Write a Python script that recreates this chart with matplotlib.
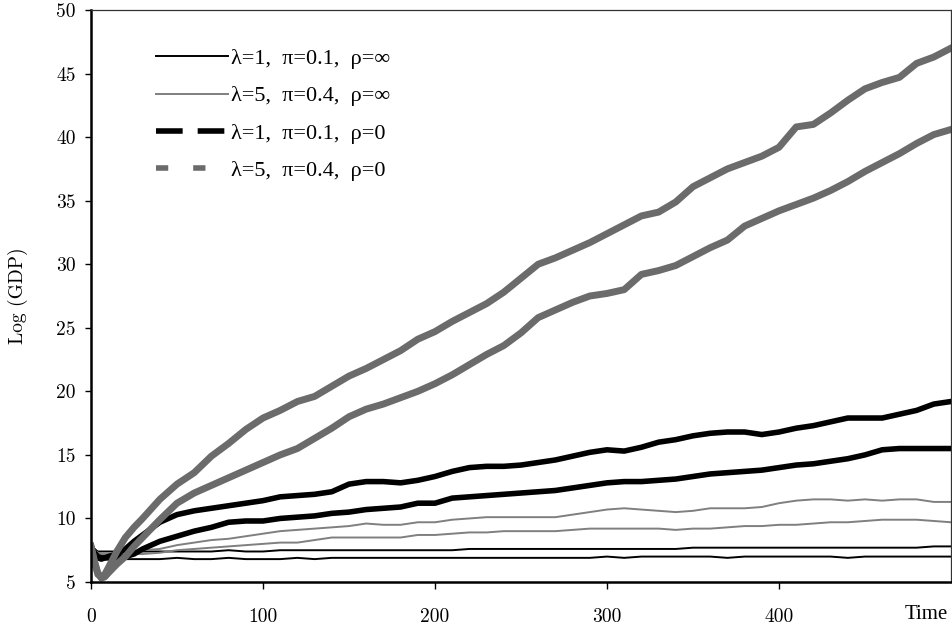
import matplotlib
matplotlib.use("Agg")
from matplotlib import pyplot as plt
from matplotlib.lines import Line2D

# time grid
t = [0, 2, 4, 6, 8, 10, 15, 20, 25, 30, 40, 50, 60, 70, 80, 90, 100, 110, 120, 130,
     140, 150, 160, 170, 180, 190, 200, 210, 220, 230, 240, 250, 260, 270, 280, 290,
     300, 310, 320, 330, 340, 350, 360, 370, 380, 390, 400, 410, 420, 430, 440, 450,
     460, 470, 480, 490, 500]

# lambda=5, pi=0.4, rho=0 (two runs, thick grey)
g_thick_1 = [7.8, 6.6, 5.6, 5.4, 5.6, 6.1, 7.4, 8.5, 9.3, 10.0, 11.5, 12.7, 13.6, 14.9, 15.9, 17.0, 17.9, 18.5, 19.2, 19.6,
             20.4, 21.2, 21.8, 22.5, 23.2, 24.1, 24.7, 25.5, 26.2, 26.9, 27.8, 28.9, 30.0, 30.5, 31.1, 31.7,
             32.4, 33.1, 33.8, 34.1, 34.9, 36.1, 36.8, 37.5, 38.0, 38.5, 39.2, 40.8, 41.0, 41.9, 42.9, 43.8,
             44.3, 44.7, 45.8, 46.3, 47.0]
g_thick_2 = [7.8, 6.6, 5.7, 5.3, 5.4, 5.7, 6.4, 7.0, 7.8, 8.5, 9.9, 11.2, 12.0, 12.6, 13.2, 13.8, 14.4, 15.0, 15.5, 16.3,
             17.1, 18.0, 18.6, 19.0, 19.5, 20.0, 20.6, 21.3, 22.1, 22.9, 23.6, 24.6, 25.8, 26.4, 27.0, 27.5,
             27.7, 28.0, 29.2, 29.5, 29.9, 30.6, 31.3, 31.9, 33.0, 33.6, 34.2, 34.7, 35.2, 35.8, 36.5, 37.3,
             38.0, 38.7, 39.5, 40.2, 40.6]

# lambda=1, pi=0.1, rho=0 (two runs, thick black)
b_thick_1 = [7.8, 7.3, 6.9, 6.8, 6.9, 7.0, 7.2, 7.6, 8.2, 8.7, 9.7, 10.3, 10.6, 10.8, 11.0, 11.2, 11.4, 11.7, 11.8, 11.9,
             12.1, 12.7, 12.9, 12.9, 12.8, 13.0, 13.3, 13.7, 14.0, 14.1, 14.1, 14.2, 14.4, 14.6, 14.9, 15.2,
             15.4, 15.3, 15.6, 16.0, 16.2, 16.5, 16.7, 16.8, 16.8, 16.6, 16.8, 17.1, 17.3, 17.6, 17.9, 17.9,
             17.9, 18.2, 18.5, 19.0, 19.2]
b_thick_2 = [7.8, 7.3, 7.0, 6.9, 6.9, 6.9, 6.9, 7.0, 7.2, 7.6, 8.2, 8.6, 9.0, 9.3, 9.7, 9.8, 9.8, 10.0, 10.1, 10.2,
             10.4, 10.5, 10.7, 10.8, 10.9, 11.2, 11.2, 11.6, 11.7, 11.8, 11.9, 12.0, 12.1, 12.2, 12.4, 12.6,
             12.8, 12.9, 12.9, 13.0, 13.1, 13.3, 13.5, 13.6, 13.7, 13.8, 14.0, 14.2, 14.3, 14.5, 14.7, 15.0,
             15.4, 15.5, 15.5, 15.5, 15.5]

# lambda=5, pi=0.4, rho=inf (two runs, thin grey)
g_thin_1 = [7.9, 7.5, 7.3, 7.2, 7.2, 7.2, 7.3, 7.3, 7.4, 7.5, 7.6, 7.9, 8.1, 8.3, 8.4, 8.6, 8.8, 9.0, 9.1, 9.2,
            9.3, 9.4, 9.6, 9.5, 9.5, 9.7, 9.7, 9.9, 10.0, 10.1, 10.1, 10.1, 10.1, 10.1, 10.3, 10.5,
            10.7, 10.8, 10.7, 10.6, 10.5, 10.6, 10.8, 10.8, 10.8, 10.9, 11.2, 11.4, 11.5, 11.5, 11.4, 11.5,
            11.4, 11.5, 11.5, 11.3, 11.3]
g_thin_2 = [7.9, 7.5, 7.3, 7.2, 7.1, 7.1, 7.1, 7.1, 7.2, 7.2, 7.3, 7.5, 7.6, 7.7, 7.8, 7.9, 8.0, 8.1, 8.1, 8.3,
            8.5, 8.5, 8.5, 8.5, 8.5, 8.7, 8.7, 8.8, 8.9, 8.9, 9.0, 9.0, 9.0, 9.0, 9.1, 9.2,
            9.2, 9.2, 9.2, 9.2, 9.1, 9.2, 9.2, 9.3, 9.4, 9.4, 9.5, 9.5, 9.6, 9.7, 9.7, 9.8,
            9.9, 9.9, 9.9, 9.8, 9.7]

# lambda=1, pi=0.1, rho=inf (two runs, thin black)
k_thin_1 = [8.0, 7.6, 7.4, 7.4, 7.4, 7.4, 7.4, 7.4, 7.4, 7.4, 7.4, 7.4, 7.4, 7.4, 7.5, 7.4, 7.4, 7.5, 7.5, 7.5,
            7.5, 7.5, 7.5, 7.5, 7.5, 7.5, 7.5, 7.5, 7.6, 7.6, 7.6, 7.6, 7.6, 7.6, 7.6, 7.6,
            7.6, 7.6, 7.6, 7.6, 7.6, 7.7, 7.7, 7.7, 7.7, 7.7, 7.7, 7.7, 7.7, 7.7, 7.7, 7.7,
            7.7, 7.7, 7.7, 7.8, 7.8]
k_thin_2 = [8.0, 7.4, 7.0, 6.9, 6.8, 6.8, 6.8, 6.8, 6.8, 6.8, 6.8, 6.9, 6.8, 6.8, 6.9, 6.8, 6.8, 6.8, 6.9, 6.8,
            6.9, 6.9, 6.9, 6.9, 6.9, 6.9, 6.9, 6.9, 6.9, 6.9, 6.9, 6.9, 6.9, 6.9, 6.9, 6.9,
            7.0, 6.9, 7.0, 7.0, 7.0, 7.0, 7.0, 6.9, 7.0, 7.0, 7.0, 7.0, 7.0, 7.0, 6.9, 7.0,
            7.0, 7.0, 7.0, 7.0, 7.0]

labels = ["\u03bb=1,  \u03c0=0.1,  \u03c1=\u221e",
          "\u03bb=5,  \u03c0=0.4,  \u03c1=\u221e",
          "\u03bb=1,  \u03c0=0.1,  \u03c1=0",
          "\u03bb=5,  \u03c0=0.4,  \u03c1=0"]

grey = "#6b6b6b"
thin_grey = "#7f7f7f"
times = ["Liberation Serif", "DejaVu Serif"]
cm = ["cmr10", "DejaVu Serif"]

fig = plt.figure(figsize=(9.52, 6.28), dpi=100)
ax = fig.add_axes([91 / 952, 46 / 628, 860 / 952, 572 / 628])

ax.plot(t, k_thin_1, color="black", lw=1.4)
ax.plot(t, k_thin_2, color="black", lw=1.4)
ax.plot(t, g_thin_1, color=thin_grey, lw=1.4)
ax.plot(t, g_thin_2, color=thin_grey, lw=1.4)
ax.plot(t, b_thick_1, color="black", lw=4)
ax.plot(t, b_thick_2, color="black", lw=4)
ax.plot(t, g_thick_1, color=grey, lw=5)
ax.plot(t, g_thick_2, color=grey, lw=5)

ax.set_xlim(0, 500)
ax.set_ylim(5, 50)
ax.set_xticks([0, 100, 200, 300, 400])
ax.set_yticks(range(5, 51, 5))

for side in ["left", "bottom"]:
    ax.spines[side].set_linewidth(1.8)
    ax.spines[side].set_color("black")
for side in ["top", "right"]:
    ax.spines[side].set_linewidth(0.9)
    ax.spines[side].set_color("#333333")

ax.tick_params(axis="y", direction="out", length=4, width=1, pad=7, labelsize=14)
ax.tick_params(axis="x", direction="out", length=5, width=1, pad=14, labelsize=14)
for lab in ax.get_xticklabels() + ax.get_yticklabels():
    lab.set_fontfamily(cm)

ax.set_ylabel("Log (GDP)", fontfamily=cm, fontsize=14, labelpad=20)
ax.text(0.996, -0.057, "Time", transform=ax.transAxes, ha="right", va="center",
        fontfamily=times, fontsize=15)

handles = [Line2D([], [], color="black", lw=1.4),
           Line2D([], [], color=thin_grey, lw=1.4),
           Line2D([], [], color="black", lw=4, dashes=(4.8, 2.7)),
           Line2D([], [], color=grey, lw=4, dashes=(2.2, 4.5))]
ax.legend(handles, labels, loc="upper left", bbox_to_anchor=(0.052, 0.968), frameon=False,
          prop={"family": times, "size": 16}, handlelength=3.25, handletextpad=0.13,
          labelspacing=0.76)

fig.savefig("out.png", dpi=100)
